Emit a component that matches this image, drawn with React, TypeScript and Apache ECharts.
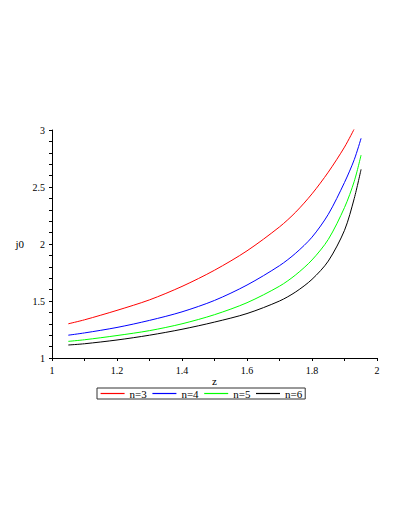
import React, { useEffect, useRef } from "react";
import * as echarts from "echarts";

const zN3 = [1.05, 1.1, 1.2, 1.3, 1.4, 1.5, 1.6, 1.7, 1.75, 1.8, 1.85, 1.9, 1.931];
const jN3 = [1.3, 1.335, 1.418, 1.51, 1.628, 1.77, 1.94, 2.15, 2.28, 2.44, 2.63, 2.85, 3.015];
const zRest = [1.05, 1.1, 1.2, 1.3, 1.4, 1.5, 1.6, 1.7, 1.75, 1.8, 1.85, 1.9, 1.93, 1.951];
const jN4 = [1.2, 1.22, 1.268, 1.33, 1.405, 1.505, 1.64, 1.81, 1.92, 2.06, 2.26, 2.54, 2.74, 2.927];
const jN5 = [1.146, 1.16, 1.197, 1.24, 1.3, 1.38, 1.485, 1.63, 1.73, 1.86, 2.04, 2.32, 2.55, 2.78];
const jN6 = [1.114, 1.125, 1.158, 1.2, 1.252, 1.315, 1.39, 1.5, 1.58, 1.69, 1.85, 2.12, 2.4, 2.655];

const seriesNames = ["n=3", "n=4", "n=5", "n=6"];
const seriesColors = ["#ff0000", "#0000ff", "#00ff00", "#000000"];
const xTicks = { min: 1, max: 2, interval: 0.2 };
const yTicks = { min: 1, max: 3, interval: 0.5 };

const FONT = "Liberation Serif";

export default function App() {
  const ref = useRef<HTMLDivElement>(null);
  useEffect(() => {
    if (!ref.current) return;
    const chart = echarts.init(ref.current, undefined, { renderer: "svg" });
    const zs = [zN3, zRest, zRest, zRest];
    const js = [jN3, jN4, jN5, jN6];
    const axisCommon = {
      axisLine: { show: true, lineStyle: { color: "#000", width: 1 } },
      axisTick: { show: true, length: 3, lineStyle: { color: "#000" } },
      splitLine: { show: false },
      axisLabel: { color: "#000", fontFamily: FONT, fontSize: 10, margin: 7 },
      nameTextStyle: { color: "#000", fontFamily: FONT, fontSize: 11 },
      nameLocation: "middle" as const,
    };
    chart.setOption({
      animation: false,
      backgroundColor: "#fff",
      color: seriesColors,
      textStyle: { fontFamily: FONT },
      grid: { left: 52, top: 130, width: 325, height: 228, containLabel: false },
      xAxis: {
        type: "value",
        ...axisCommon,
        min: xTicks.min,
        max: xTicks.max,
        interval: xTicks.interval,
        minorTick: { show: true, length: 3, splitNumber: 2, lineStyle: { color: "#000" } },
        name: "z",
        nameGap: 16,
      },
      yAxis: {
        type: "value",
        ...axisCommon,
        min: yTicks.min,
        max: yTicks.max,
        interval: yTicks.interval,
        minorTick: { show: true, length: 3, splitNumber: 5, lineStyle: { color: "#000" } },
        name: "j0",
        nameGap: 28,
        nameRotate: 0,
      },
      legend: {
        show: true,
        left: 97,
        top: 388,
        orient: "horizontal",
        borderColor: "#333",
        borderWidth: 1,
        padding: [0, 3, 0, 3],
        itemGap: 5,
        itemWidth: 24,
        itemHeight: 12,
        textStyle: { color: "#000", fontFamily: FONT, fontSize: 11 },
        data: seriesNames.map((name, i) => ({
          name,
          itemStyle: { color: seriesColors[i], opacity: 0 },
          lineStyle: { color: seriesColors[i], width: 1.2, opacity: 1 },
        })),
      },
      series: seriesNames.map((name, i) => ({
        name,
        type: "line",
        data: zs[i].map((z, k) => [z, js[i][k]]),
        smooth: 0.3,
        symbol: "none",
        lineStyle: { color: seriesColors[i], width: 1 },
        itemStyle: { color: seriesColors[i] },
      })),
    });
    return () => chart.dispose();
  }, []);
  return (
    <div
      ref={ref}
      style={{ position: "absolute", left: 0, top: 0, width: 408, height: 528 }}
    />
  );
}
